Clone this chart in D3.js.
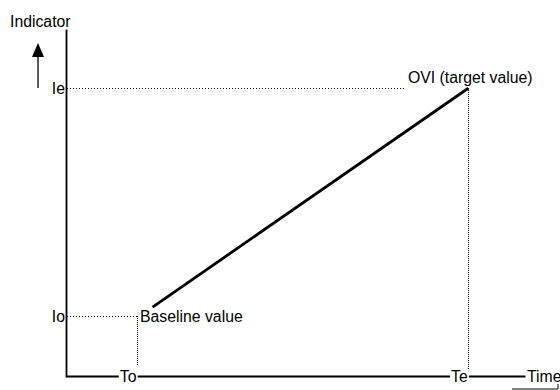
<!DOCTYPE html>
<html>
<head>
<meta charset="utf-8">
<script src="https://cdn.jsdelivr.net/npm/d3@7"></script>
<style>
  body { margin: 0; background: #fff; }
  svg { display: block; font-family: "Liberation Sans", Arial, sans-serif; }
</style>
</head>
<body>
<svg id="drawing_region"></svg>
<script>
// tick positions (conceptual units) and their labels
const xTickValues = [ 15, 85 ];
const xTickLabels = [ 'To', 'Te' ];
const yTickValues = [ 16, 76 ];
const yTickLabels = [ 'Io', 'Ie' ];

// the indicator line, from just after baseline to target
const trendTime  = [ 18.3, 85 ];
const trendValue = [ 18.4, 76 ];

const xMax = 97;
const yMax = 91.6;

const width = 560, height = 390;
const fontSize = 15.8;

const svg = d3.select( '#drawing_region' )
    .attr( 'width', width )
    .attr( 'height', height );

const xscale = d3.scaleLinear().domain( [ 0, xMax ] ).range( [ 66, 525 ] );
const yscale = d3.scaleLinear().domain( [ 0, yMax ] ).range( [ 377, 29 ] );

// pixel aligned positions for the thin dotted guides
const px = v => Math.round( v ) + 0.5;

// put a white box behind a text so lines seem to stop at it
function knockout( sel, pad ) {
    sel.each( function() {
        const b = this.getBBox();
        d3.select( this.parentNode ).insert( 'rect', () => this )
            .attr( 'x', b.x - pad ).attr( 'y', b.y + 2 )
            .attr( 'width', b.width + pad * 2 ).attr( 'height', b.height - 4 )
            .attr( 'fill', '#fff' );
    } );
}

// dotted guide lines
const To = xTickValues[0], Te = xTickValues[1];
const Io = yTickValues[0], Ie = yTickValues[1];
const guides = svg.append( 'g' )
    .attr( 'stroke', '#000' ).attr( 'fill', 'none' )
    .attr( 'stroke-width', 1 )
    .attr( 'shape-rendering', 'crispEdges' );

guides.append( 'line' )
    .attr( 'x1', xscale( 0 ) + 1 ).attr( 'x2', xscale( To ) )
    .attr( 'y1', px( yscale( Io ) ) ).attr( 'y2', px( yscale( Io ) ) )
    .attr( 'stroke-dasharray', '1,2' );
guides.append( 'line' )
    .attr( 'x1', px( xscale( To ) ) ).attr( 'x2', px( xscale( To ) ) )
    .attr( 'y1', Math.round( yscale( Io ) ) ).attr( 'y2', yscale( 0 ) - 11 )
    .attr( 'stroke-dasharray', '1,1' );
guides.append( 'line' )
    .attr( 'x1', px( xscale( Te ) ) ).attr( 'x2', px( xscale( Te ) ) )
    .attr( 'y1', Math.round( yscale( Ie ) ) ).attr( 'y2', yscale( 0 ) - 6 )
    .attr( 'stroke-dasharray', '1,1' );
const ieGuide = guides.append( 'line' )
    .attr( 'x1', xscale( 0 ) + 1 ).attr( 'x2', xscale( Te ) )
    .attr( 'y1', px( yscale( Ie ) ) ).attr( 'y2', px( yscale( Ie ) ) )
    .attr( 'stroke-dasharray', '1,2' );

// trend line
const line = d3.line().x( d => xscale( d[0] ) ).y( d => yscale( d[1] ) );
svg.append( 'path' )
    .datum( d3.zip( trendTime, trendValue ) )
    .attr( 'd', line )
    .attr( 'fill', 'none' )
    .attr( 'stroke', '#000' )
    .attr( 'stroke-width', 2.8 );

// axes
const xaxis = d3.axisBottom( xscale )
    .tickValues( xTickValues )
    .tickFormat( ( d, i ) => xTickLabels[i] )
    .tickSize( 0 ).tickSizeOuter( 0 );
const yaxis = d3.axisLeft( yscale )
    .tickValues( yTickValues )
    .tickFormat( ( d, i ) => yTickLabels[i] )
    .tickSize( 0 ).tickSizeOuter( 0 ).tickPadding( 1 );

const xaxis_group = svg.append( 'g' )
    .attr( 'transform', `translate(0, ${yscale( 0 ) - 1})` )
    .call( xaxis );
const yaxis_group = svg.append( 'g' )
    .attr( 'transform', `translate(${xscale( 0 )}, 0)` )
    .call( yaxis );

[ xaxis_group, yaxis_group ].forEach( g => {
    g.attr( 'font-family', null ).attr( 'font-size', fontSize );
    g.select( '.domain' ).attr( 'stroke-width', 1.8 );
    g.selectAll( 'text' ).attr( 'fill', '#000' );
} );

xaxis_group.selectAll( 'text' )
    .attr( 'y', 0 ).attr( 'dy', '0.35em' )
    .attr( 'x', -1 )
    .attr( 'text-anchor', 'end' )
    .call( knockout, 1 );

// axis titles
xaxis_group.append( 'text' )
    .attr( 'x', xscale( xMax ) + 2 ).attr( 'y', 0 ).attr( 'dy', '0.35em' )
    .attr( 'fill', '#000' ).attr( 'text-anchor', 'start' )
    .text( 'Time' );

svg.append( 'text' )
    .attr( 'x', 10 ).attr( 'y', 27 )
    .attr( 'font-size', fontSize )
    .text( 'Indicator' );

// upward arrow beside the y axis
svg.append( 'line' )
    .attr( 'x1', 38 ).attr( 'x2', 38 ).attr( 'y1', 88 ).attr( 'y2', 55 )
    .attr( 'stroke', '#333' ).attr( 'stroke-width', 1.6 );
svg.append( 'path' )
    .attr( 'd', 'M32,57 L38,43 L44,57 Z' )
    .attr( 'fill', '#000' );

// annotations
svg.append( 'text' )
    .attr( 'x', xscale( To ) + 3 ).attr( 'y', yscale( Io ) ).attr( 'dy', '0.35em' )
    .attr( 'font-size', fontSize )
    .text( 'Baseline value' );

const ovi = svg.append( 'text' )
    .attr( 'x', xscale( Te ) + 2 ).attr( 'y', yscale( Ie ) - 5 )
    .attr( 'font-size', fontSize )
    .attr( 'text-anchor', 'middle' )
    .text( 'OVI (target value)' );
ieGuide.attr( 'x2', ovi.node().getBBox().x - 3 );

// small mark at the bottom right corner
svg.append( 'path' )
    .attr( 'd', 'M512,389 L558,389 L558,384' )
    .attr( 'fill', 'none' ).attr( 'stroke', '#000' ).attr( 'stroke-width', 1 );
</script>
</body>
</html>
